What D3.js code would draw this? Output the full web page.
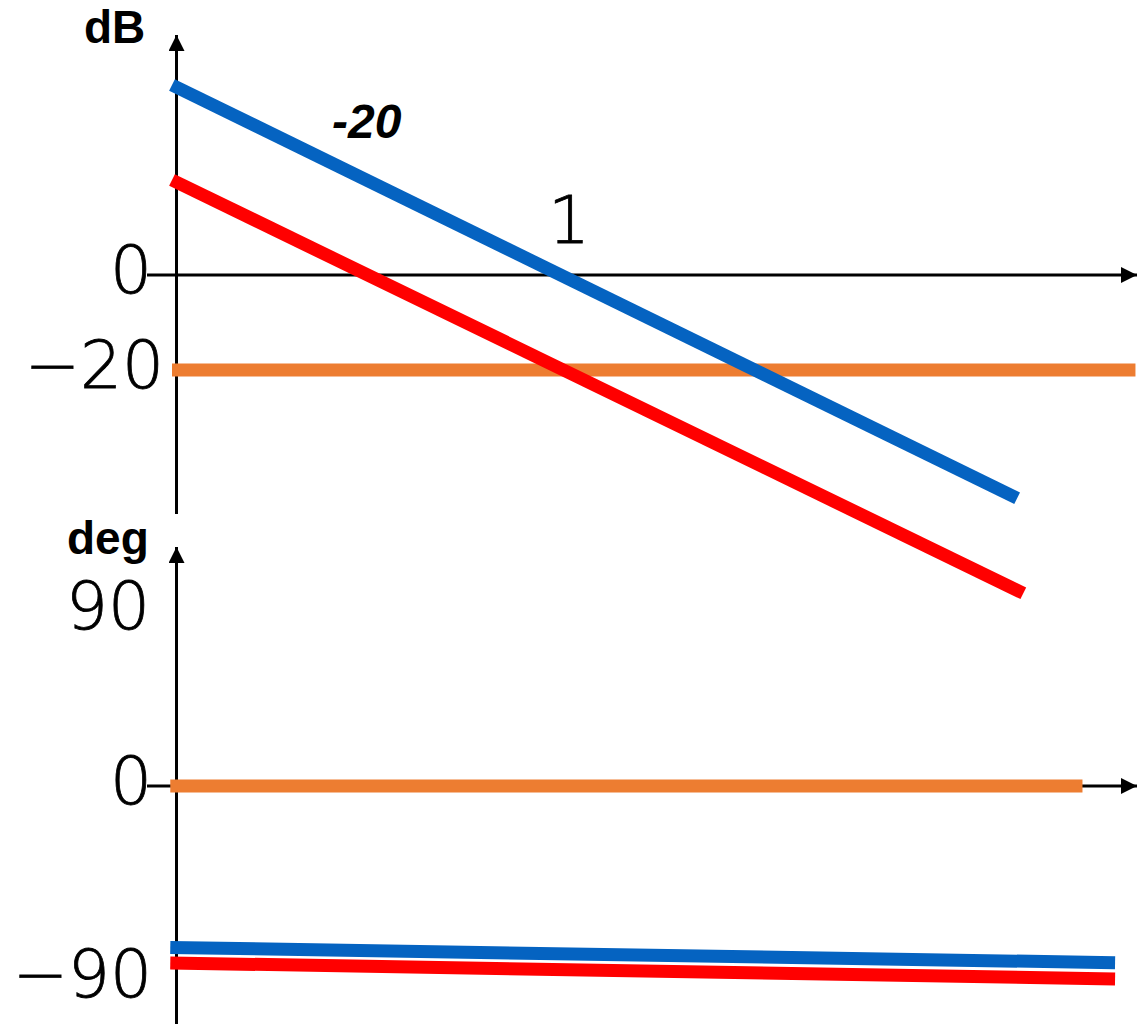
<!DOCTYPE html>
<html>
<head>
<meta charset="utf-8">
<script src="https://cdn.jsdelivr.net/npm/d3@7"></script>
<style>
  html, body { margin: 0; padding: 0; background: #fff; }
  svg { display: block; }
  .num { font-family: "DejaVu Sans", sans-serif; font-weight: 200; font-size: 66px; fill: #000; stroke: #000; stroke-width: 0.8px; }
  .unit { font-family: "Liberation Sans", Arial, sans-serif; font-weight: bold; font-size: 46px; fill: #000; }
  .slope { font-family: "Liberation Sans", Arial, sans-serif; font-weight: bold; font-style: italic; font-size: 48px; fill: #000; }
</style>
</head>
<body>
<script>
// Asymptotic Bode plot: magnitude (dB) above, phase (deg) below.
const colors = { blue: "#0563C1", red: "#FF0000", orange: "#ED7D31" };

// Magnitude curves: [frequency, dB]
const magBlue   = [[0.01, 40], [200, -47]];
const magRed    = [[0.01, 20], [215, -67]];
const magOrange = [[0.01, -20], [800, -20]];

// Phase curves: [frequency, deg]
const phaseBlue   = [[0.0098, -75.3], [630, -82.4]];
const phaseRed    = [[0.0098, -82.5], [630, -90]];
const phaseOrange = [[0.0098, 0], [430, 0]];

// Axis tick labels
const magTicks   = [0, -20];
const phaseTicks = [90, 0, -90];
const freqTicks  = [1];
const slopeLabel = "-20";

const W = 1142, H = 1024;
const svg = d3.select("body").append("svg").attr("width", W).attr("height", H);

const x = d3.scaleLog().domain([0.01, 1000]).range([172, 172 + 5 * 196.5]);
const yMag = d3.scaleLinear().domain([-20, 0]).range([370, 275]);
const yPh = d3.scaleLinear().domain([-90, 0, 90]).range([979, 786, 611]);

const axisX = 176.5;
const arrowTip = 1137;

// Arrow marker
const defs = svg.append("defs");
defs.append("marker")
  .attr("id", "arrow").attr("viewBox", "0 0 16 16")
  .attr("refX", 16).attr("refY", 8)
  .attr("markerWidth", 16).attr("markerHeight", 16)
  .attr("markerUnits", "userSpaceOnUse").attr("orient", "auto")
  .append("path").attr("d", "M0,0 L16,8 L0,16 Z").attr("fill", "#000");

function axisLine(x1, y1, x2, y2) {
  svg.append("line")
    .attr("x1", x1).attr("y1", y1).attr("x2", x2).attr("y2", y2)
    .attr("stroke", "#000").attr("stroke-width", 3)
    .attr("marker-end", "url(#arrow)");
}

// Magnitude axes
axisLine(axisX, 514, axisX, 35);
axisLine(147, yMag(0), arrowTip, yMag(0));
// Phase axes
axisLine(axisX, H, axisX, 547);
axisLine(147, yPh(0), arrowTip, yPh(0));

const line = y => d3.line().x(d => x(d[0])).y(d => y(d[1]));

function drawSeries(data, y, color) {
  svg.append("path").datum(data)
    .attr("d", line(y))
    .attr("fill", "none").attr("stroke", color)
    .attr("stroke-width", 13).attr("stroke-linecap", "butt");
}

drawSeries(magOrange, yMag, colors.orange);
drawSeries(magBlue, yMag, colors.blue);
drawSeries(magRed, yMag, colors.red);

drawSeries(phaseOrange, yPh, colors.orange);
drawSeries(phaseRed, yPh, colors.red);
drawSeries(phaseBlue, yPh, colors.blue);

const fmt = v => (v < 0 ? "\u2212" : "") + Math.abs(v);
const labelRight = v => (v === -20 ? 164 : v === 90 ? 150 : 152);

svg.selectAll(".magTick").data(magTicks).enter().append("text")
  .attr("class", "num").attr("text-anchor", "end")
  .attr("x", d => labelRight(d)).attr("y", d => yMag(d) + 18)
  .text(fmt);

svg.selectAll(".phTick").data(phaseTicks).enter().append("text")
  .attr("class", "num").attr("text-anchor", "end")
  .attr("x", d => labelRight(d)).attr("y", d => yPh(d) + 18)
  .text(fmt);

svg.selectAll(".fTick").data(freqTicks).enter().append("text")
  .attr("class", "num").attr("text-anchor", "middle")
  .attr("x", d => x(d) + 4).attr("y", yMag(0) - 32)
  .text(d => d);

svg.append("text").attr("class", "unit").attr("x", 84).attr("y", 43).text("dB");
svg.append("text").attr("class", "unit").attr("x", 67).attr("y", 554).text("deg");
svg.append("text").attr("class", "slope").attr("x", 332).attr("y", 138).text(slopeLabel);
</script>
</body>
</html>
